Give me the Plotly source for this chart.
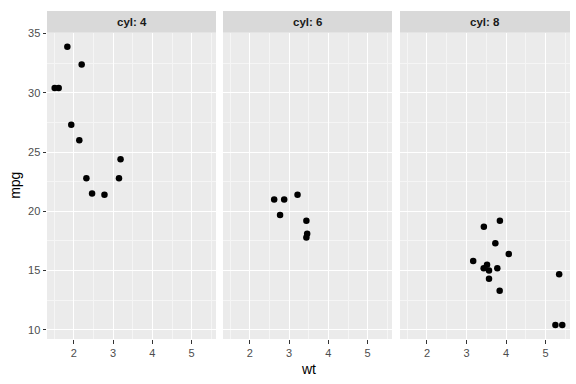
import plotly.graph_objects as go

wt = [2.620, 2.875, 2.320, 3.215, 3.440, 3.460, 3.570, 3.190, 3.150, 3.440, 3.440, 4.070,
      3.730, 3.780, 5.250, 5.424, 5.345, 2.200, 1.615, 1.835, 2.465, 3.520, 3.435, 3.840,
      3.845, 1.935, 2.140, 1.513, 3.170, 2.770, 3.570, 2.780]
mpg = [21.0, 21.0, 22.8, 21.4, 18.7, 18.1, 14.3, 24.4, 22.8, 19.2, 17.8, 16.4,
       17.3, 15.2, 10.4, 10.4, 14.7, 32.4, 30.4, 33.9, 21.5, 15.5, 15.2, 13.3,
       19.2, 27.3, 26.0, 30.4, 15.8, 19.7, 15.0, 21.4]
cyl = [6, 6, 4, 6, 8, 6, 8, 4, 4, 6, 6, 8, 8, 8, 8, 8, 8, 4, 4, 4, 4, 8, 8, 8,
       8, 4, 4, 4, 8, 6, 8, 4]
cyl_levels = [4, 6, 8]
x_ticks = [2, 3, 4, 5]
y_ticks = [10, 15, 20, 25, 30, 35]

W, H = 576, 384
ml, mr, mt, mb = 47, 6, 7, 45
pw = W - ml - mr
ph = H - mt - mb
panels_px = [(0, 169), (176, 345), (353, 523)]
strip_h = 22
ydom_top = (ph - strip_h) / ph

xmin, xmax = min(wt), max(wt)
ymin, ymax = min(mpg), max(mpg)
xr = [xmin - 0.05 * (xmax - xmin), xmax + 0.05 * (xmax - xmin)]
yr = [ymin - 0.05 * (ymax - ymin), ymax + 0.05 * (ymax - ymin)]

font = "Liberation Sans, Arial, sans-serif"
fig = go.Figure()
shapes = []
annotations = []
for i, c in enumerate(cyl_levels):
    xs = [w for w, k in zip(wt, cyl) if k == c]
    ys = [m for m, k in zip(mpg, cyl) if k == c]
    ax = "" if i == 0 else str(i + 1)
    fig.add_trace(go.Scatter(x=xs, y=ys, mode="markers", xaxis="x" + ax, yaxis="y" + ax,
                             marker=dict(color="black", size=6.5, line=dict(width=0)),
                             showlegend=False))
    d0, d1 = panels_px[i][0] / pw, panels_px[i][1] / pw
    common = dict(showgrid=True, gridcolor="white", gridwidth=1.1, zeroline=False,
                  showline=False, ticks="outside", ticklen=3.5, tickwidth=1,
                  tickcolor="#333333", tickfont=dict(family=font, size=11, color="#4D4D4D"))
    xa = dict(domain=[d0, d1], range=xr, tickvals=x_ticks, anchor="y" + ax,
              minor=dict(tickvals=[1.5, 2.5, 3.5, 4.5, 5.5], showgrid=True,
                         gridcolor="#F5F5F5", gridwidth=0.6, ticks=""), **common)
    ya = dict(domain=[0, ydom_top], range=yr, tickvals=y_ticks, anchor="x" + ax,
              showticklabels=(i == 0),
              minor=dict(tickvals=[12.5, 17.5, 22.5, 27.5, 32.5], showgrid=True,
                         gridcolor="#F5F5F5", gridwidth=0.6, ticks=""), **common)
    if i != 0:
        ya["ticks"] = ""
    fig.update_layout(**{"xaxis" + ax: xa, "yaxis" + ax: ya})
    shapes.append(dict(type="rect", xref="paper", yref="paper", x0=d0, x1=d1,
                       y0=ydom_top, y1=1, fillcolor="#D9D9D9", line=dict(width=0), layer="below"))
    shapes.append(dict(type="rect", xref="paper", yref="paper", x0=d0, x1=d1,
                       y0=0, y1=ydom_top, fillcolor="#EBEBEB", line=dict(width=0), layer="below"))
    annotations.append(dict(text="<b>cyl: %d</b>" % c, xref="paper", yref="paper",
                            x=(d0 + d1) / 2, y=(1 + ydom_top) / 2, showarrow=False,
                            xanchor="center", yanchor="middle",
                            font=dict(family=font, size=11.5, color="#1A1A1A")))

annotations.append(dict(text="wt", xref="paper", yref="paper", x=0.5, y=-(369 - mt - ph) / ph,
                        showarrow=False, xanchor="center", yanchor="middle",
                        font=dict(family=font, size=14, color="black")))
annotations.append(dict(text="mpg", xref="paper", yref="paper", x=-(ml - 15) / pw,
                        y=ydom_top / 2, showarrow=False, textangle=-90,
                        xanchor="center", yanchor="middle",
                        font=dict(family=font, size=14, color="black")))

fig.update_layout(width=W, height=H, margin=dict(l=ml, r=mr, t=mt, b=mb),
                  paper_bgcolor="white", plot_bgcolor="rgba(0,0,0,0)",
                  shapes=shapes, annotations=annotations, showlegend=False)
fig.write_html("out.html")
